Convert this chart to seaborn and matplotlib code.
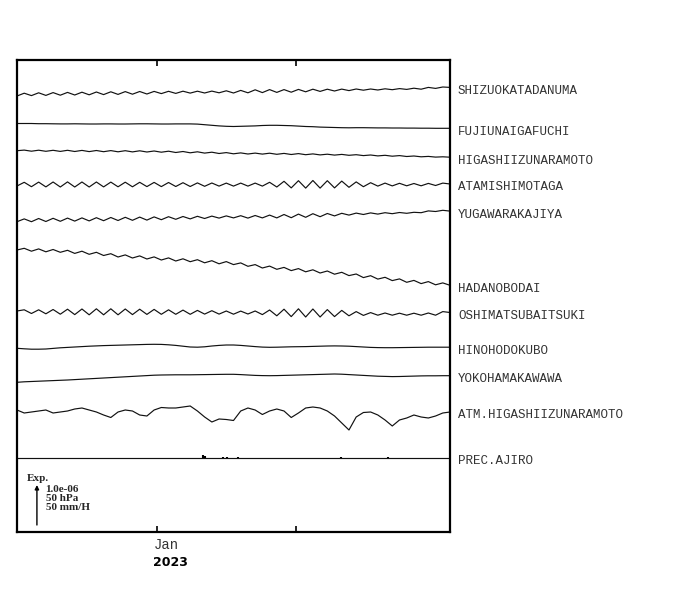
"""Strain / pressure / rain stack plot, Izu-Kanto stations, Dec 2022 - Mar 2023."""

import matplotlib.dates as mdates
import matplotlib.pyplot as plt
import pandas as pd
import seaborn as sns

sns.set_theme(style="ticks")

# ---- data -------------------------------------------------------------
# time grid: 61 samples from 2022-11-30 19:00 to 2023-03-07 08:00
t_start = "2022-11-30 19:00"
t_end = "2023-03-07 08:00"
n_samples = 61

stations = [
    "SHIZUOKATADANUMA",
    "FUJIUNAIGAFUCHI",
    "HIGASHIIZUNARAMOTO",
    "ATAMISHIMOTAGA",
    "YUGAWARAKAJIYA",
    "HADANOBODAI",
    "OSHIMATSUBAITSUKI",
    "HINOHODOKUBO",
    "YOKOHAMAKAWAWA",
    "ATM.HIGASHIIZUNARAMOTO",
]

# deviations, in plot units (40 units = 1.0e-06 / 50 hPa)
shizuoka = [0, 2.8, 0.4, 3.2, 0.6, 3.4, 0.8, 3.6, 1.0, 3.8, 1.2, 4.0, 1.4, 4.2, 1.6, 4.4,
            1.8, 4.5, 2.0, 4.6, 2.4, 4.7, 2.6, 4.8, 2.9, 4.8, 3.0, 4.9, 3.2, 5.2, 3.0, 5.6,
            3.2, 6.2, 3.4, 6.4, 3.6, 6.4, 3.8, 6.6, 4.2, 6.8, 4.6, 6.8, 5.0, 6.9, 5.4, 7.0,
            5.8, 7.0, 6.0, 7.2, 6.3, 7.4, 6.6, 7.8, 6.8, 8.6, 7.6, 9.0, 8.6]
fujiunai = [0, 0, 0, -0.2, -0.2, -0.3, -0.4, -0.4, -0.3, -0.4, -0.5, -0.5, -0.4, -0.4, -0.5,
            -0.5, -0.4, -0.3, -0.3, -0.4, -0.5, -0.5, -0.4, -0.4, -0.4, -0.6, -1.2, -1.8, -2.4,
            -2.8, -3.0, -2.8, -2.6, -2.4, -2.0, -1.8, -1.8, -2.0, -2.2, -2.6, -3.0, -3.2, -3.6,
            -3.8, -4.0, -4.2, -4.3, -4.2, -4.2, -4.3, -4.4, -4.4, -4.5, -4.5, -4.6, -4.6, -4.7,
            -4.7, -4.8, -4.8, -4.8]
higashiizu = [0.3, 0.9, -0.2, 0.8, -0.3, 0.7, -0.4, 0.7, -0.5, 0.6, -0.6, 0.5, -0.7, 0.4, -0.8,
              0.3, -0.9, 0.2, -1.0, 0.0, -1.2, -0.2, -1.5, -0.5, -1.8, -0.8, -2.1, -1.2, -2.5,
              -1.6, -2.8, -1.9, -3.0, -2.1, -3.1, -2.2, -3.3, -2.4, -3.5, -2.6, -3.7, -2.9, -3.9,
              -3.2, -4.1, -3.4, -4.3, -3.7, -4.6, -4.0, -4.9, -4.3, -5.2, -4.6, -5.5, -5.0, -5.8,
              -5.4, -6.1, -5.8, -6.2]
atami = [-1.5, 2.2, -2.2, 2.4, -2.4, 2.5, -2.5, 2.6, -2.5, 2.5, -2.5, 2.5, -2.4, 2.4, -2.3,
         2.3, -2.3, 2.2, -2.1, 2.1, -2.1, 2.0, -2.0, 1.8, -2.0, 1.6, -1.8, 1.5, -1.6, 1.4, -1.6,
         1.4, -1.6, 1.4, -1.6, 2.2, -2.5, 3.2, -3.4, 3.8, -3.6, 4.0, -3.6, 3.8, -3.4, 3.4, -2.8,
         2.6, -2.2, 1.8, -1.6, 1.4, -1.4, 1.2, -1.3, 1.0, -1.3, 1.1, -1.0, 1.4, 0.5]
yugawara = [-1.2, 1.6, -1.2, 2.0, -1.0, 2.2, -0.8, 2.4, -0.6, 2.6, -0.4, 2.8, -0.2, 3.0, 0.0,
            3.2, 0.2, 3.4, 0.4, 3.6, 0.8, 3.8, 1.2, 4.0, 1.6, 4.2, 2.0, 4.4, 2.4, 4.6, 2.6, 4.8,
            2.4, 5.0, 2.6, 5.4, 2.6, 6.0, 2.8, 6.4, 3.2, 6.8, 3.8, 7.0, 4.6, 7.2, 5.4, 7.4, 6.0,
            7.6, 6.4, 7.8, 6.8, 8.0, 7.2, 8.2, 7.8, 9.6, 9.0, 10.2, 9.4]
hadano = [-0.5, 1.2, -1.7, 0.6, -2.3, 0.0, -2.8, -0.8, -3.9, -1.7, -4.8, -2.8, -6.0, -4.2, -7.5,
          -5.4, -8.5, -6.4, -9.5, -7.4, -10.5, -8.4, -11.5, -9.3, -12.2, -10.2, -13.3, -11.2,
          -14.3, -12.1, -15.1, -13.4, -16.8, -15.1, -18.5, -16.6, -19.8, -17.9, -21.1, -19.1,
          -22.3, -20.3, -23.5, -21.5, -24.7, -22.8, -26.1, -24.5, -28.1, -26.2, -29.6, -27.8,
          -31.1, -29.4, -32.8, -30.9, -34.1, -32.1, -35.3, -33.4, -35.8]
oshima = [1.0, 2.2, -1.5, 2.2, -1.8, 2.5, -2.2, 2.8, -2.6, 3.0, -2.8, 3.2, -2.8, 3.2, -2.8, 3.0,
          -2.6, 2.8, -2.4, 2.6, -2.3, 2.2, -2.3, 1.9, -2.3, 1.6, -2.1, 1.3, -2.1, 1.0, -2.2, 0.9,
          -2.0, 1.0, -2.6, 2.0, -3.8, 2.8, -4.6, 3.2, -5.0, 3.0, -5.0, 2.4, -4.6, 1.6, -3.8, 0.4,
          -3.4, -0.6, -3.2, -1.0, -3.2, -1.2, -3.2, -1.2, -3.2, -1.0, -3.2, 0.4, -0.5]
hino = [-0.3, -0.8, -1.2, -1.2, -1.0, -0.4, 0.2, 0.6, 1.0, 1.4, 1.8, 2.1, 2.4, 2.6, 2.8, 3.0,
        3.2, 3.4, 3.6, 3.7, 3.6, 3.2, 2.6, 1.8, 1.0, 0.8, 1.2, 2.0, 2.6, 3.0, 3.0, 2.6, 2.0, 1.4,
        0.9, 0.7, 0.8, 1.0, 1.2, 1.3, 1.4, 1.6, 1.8, 2.0, 2.1, 2.0, 1.8, 1.4, 1.0, 0.6, 0.4, 0.3,
        0.3, 0.4, 0.5, 0.6, 0.7, 0.8, 0.8, 0.8, 0.8]
yokohama = [-0.3, 0.2, 0.5, 0.8, 1.1, 1.4, 1.7, 2.0, 2.4, 2.8, 3.2, 3.6, 4.0, 4.4, 4.8, 5.2,
            5.6, 6.0, 6.4, 6.8, 7.0, 7.1, 7.2, 7.2, 7.2, 7.3, 7.4, 7.5, 7.6, 7.7, 7.7, 7.4, 7.0,
            6.6, 6.4, 6.3, 6.4, 6.6, 6.8, 7.0, 7.2, 7.4, 7.6, 7.8, 8.0, 7.8, 7.4, 7.0, 6.6, 6.2,
            5.8, 5.6, 5.4, 5.5, 5.7, 5.9, 6.1, 6.2, 6.2, 6.3, 6.3]
atm = [0, -3, -2, -1, 0, -3, -2, -1, 1, 2, 0, -2, -5, -7.5, -2, 0, -1, -5, -6, 0, 2.5, 2, 2, 3,
       4, -1, -7, -12, -9, -9.5, -10.5, -1, 2, 0, -4.5, -1, 1, -1, -7.5, -3, 2, 3, 2, -1, -6,
       -13, -20, -7, -2.5, -2, -5, -10, -16, -10, -8, -5, -7, -8, -6, -3, -2]

# rain at AJIRO (mm/H)
rain_times = ["2023-01-11 06:00", "2023-01-11 17:00", "2023-01-15 17:00", "2023-01-16 14:00",
              "2023-01-19 01:00", "2023-02-11 00:00", "2023-02-21 12:00"]
rain_mm = [3.8, 2.5, 1.2, 1.2, 1.2, 1.0, 1.5]

scale_lines = ["1.0e-06", "50 hPa", "50 mm/H"]

# ---- layout -----------------------------------------------------------
trace_base = [436, 408.5, 381, 347.5, 311.5, 282.5, 220, 184, 150, 122]
prec_base = 74
scale_units = 40  # plot units for 1.0e-06 / 50 hPa / 50 mm/H

series = [shizuoka, fujiunai, higashiizu, atami, yugawara, hadano, oshima, hino, yokohama, atm]
times = pd.date_range(t_start, t_end, periods=n_samples)

frames = []
for name, base, vals in zip(stations, trace_base, series):
    frames.append(pd.DataFrame({"time": times, "station": name,
                                "y": [base + v for v in vals]}))
df = pd.concat(frames, ignore_index=True)

fig = plt.figure(figsize=(7, 5.9), dpi=100)
ax = fig.add_axes([17 / 700, 58 / 590, 433 / 700, 472 / 590])

sns.lineplot(data=df, x="time", y="y", units="station", estimator=None,
             color="#111111", lw=0.85, ax=ax, legend=False)

# precipitation trace
ax.axhline(prec_base, color="#111111", lw=0.85)
ax.vlines(pd.to_datetime(rain_times), prec_base,
          [prec_base + r * scale_units / 50 for r in rain_mm], color="black", lw=1.5)

ax.set_xlim(pd.Timestamp(t_start), pd.Timestamp(t_end))
ax.set_ylim(0, 472)
ax.set_xlabel("")
ax.set_ylabel("")
ax.set_yticks([])
jan = pd.Timestamp("2023-01-01")
ax.set_xticks([jan, pd.Timestamp("2023-02-01")])
ax.tick_params(axis="x", direction="in", top=True, bottom=True, length=4, width=1.2,
               labelbottom=False, color="black")
for sp in ax.spines.values():
    sp.set_visible(True)
    sp.set_linewidth(1.6)
    sp.set_color("black")

# station labels at the end of each trace
mono = ["Liberation Mono", "DejaVu Sans Mono"]
for name, base, vals in zip(stations, trace_base, series):
    ax.annotate(name, xy=(1, base + vals[-1]), xycoords=("axes fraction", "data"),
                xytext=(8, -3.5), textcoords="offset pixels", ha="left", va="center",
                family=mono, fontsize=9, color="#333333")
ax.annotate("PREC.AJIRO", xy=(1, prec_base), xycoords=("axes fraction", "data"),
            xytext=(8, -3.5), textcoords="offset pixels", ha="left", va="center",
            family=mono, fontsize=9, color="#333333")

# date labels
jan_num = mdates.date2num(jan)
ax.annotate("Jan", xy=(jan_num, 0), xycoords=("data", "axes fraction"), xytext=(-3, -13),
            textcoords="offset pixels", ha="left", va="center", family=mono, fontsize=10,
            color="#333333")
ax.annotate("2023", xy=(jan_num, 0), xycoords=("data", "axes fraction"), xytext=(-4, -30),
            textcoords="offset pixels", ha="left", va="center", family="DejaVu Sans",
            fontweight="bold", fontsize=9, color="black")

# scale legend
serif = ["Liberation Serif", "DejaVu Serif"]
ax.text(0.023, 0.1123, "Exp.", transform=ax.transAxes, ha="left", va="center",
        family=serif, fontweight="bold", fontsize=8)
ax.annotate("", xy=(0.046, 7 + scale_units), xycoords=("axes fraction", "data"),
            xytext=(0.046, 7), textcoords=("axes fraction", "data"),
            arrowprops=dict(arrowstyle="-|>", lw=1, color="black", mutation_scale=6,
                            shrinkA=0, shrinkB=0))
ax.text(0.066, 0.071, "\n".join(scale_lines), transform=ax.transAxes, ha="left",
        va="center", multialignment="left", linespacing=0.95,
        family=serif, fontweight="bold", fontsize=8)

fig.savefig("out.png", dpi=100)
plt.close(fig)
